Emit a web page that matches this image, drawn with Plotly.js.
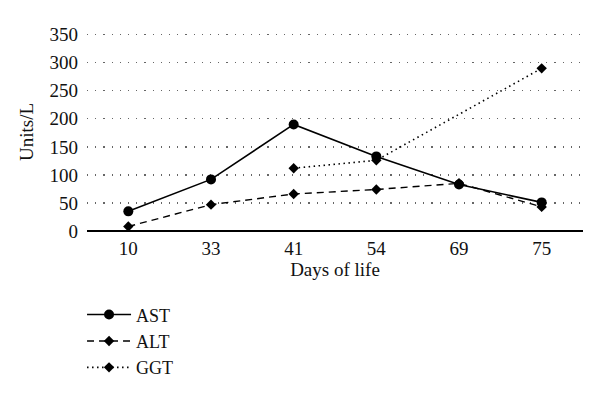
<!DOCTYPE html>
<html><head><meta charset="utf-8">
<script src="https://cdn.plot.ly/plotly-3.0.1.min.js"></script>
<style>html,body{margin:0;padding:0;background:#fff}</style>
</head><body><div id="chart" style="width:600px;height:394px"></div>
<script>
const days = ["10","33","41","54","69","75"];
const ast = [35, 92, 190, 133, 83, 51];
const alt = [8, 47, 66, 74, 85, 43];
const ggt = [null, null, 112, 126, null, 290];
const yTicks = [0,50,100,150,200,250,300,350];

const font = {family: "Liberation Serif, DejaVu Serif, serif", color: "#111", size: 19};
const traces = [
  {x: days, y: ast, name: "AST", type: "scatter", mode: "lines+markers",
   line: {color: "#000", width: 1.6, dash: "solid"}, marker: {symbol: "circle", size: 10, color: "#000"}},
  {x: days, y: alt, name: "ALT", type: "scatter", mode: "lines+markers",
   line: {color: "#000", width: 1.4, dash: "7px,5px"}, marker: {symbol: "diamond", size: 8, color: "#000"}},
  {x: days, y: ggt, name: "GGT", type: "scatter", mode: "lines+markers", connectgaps: true,
   line: {color: "#000", width: 1.6, dash: "1.5px,3.5px"}, marker: {symbol: "diamond", size: 8, color: "#000"}}
];
const layout = {
  width: 600, height: 394,
  margin: {l: 87, r: 17, t: 33, b: 163, autoexpand: false},
  paper_bgcolor: "#fff", plot_bgcolor: "#fff",
  font: font,
  showlegend: true,
  legend: {x: -0.01, xanchor: "left", y: -0.33, yanchor: "top", orientation: "v",
           font: {family: font.family, size: 18, color: "#111"}, tracegroupgap: 0, itemwidth: 44},
  xaxis: {type: "category", range: [-0.5, 5.5], showgrid: false, zeroline: false,
          showline: false, ticks: "", tickfont: {size: 19}, ticklabelstandoff: 4,
          title: {text: "Days of life", font: {size: 19}, standoff: 4}},
  yaxis: {range: [0, 353], tickvals: yTicks, ticktext: yTicks.map(String), showgrid: true,
          gridcolor: "#666", griddash: "1.2px,7px", gridwidth: 1.3, zeroline: true, zerolinecolor: "#000",
          zerolinewidth: 1.5, showline: false, ticks: "", tickfont: {size: 19}, ticklabelstandoff: 8,
          title: {text: "Units/L", font: {size: 19}, standoff: 10}}
};
Plotly.newPlot("chart", traces, layout, {displayModeBar: false, staticPlot: true});
</script></body></html>
